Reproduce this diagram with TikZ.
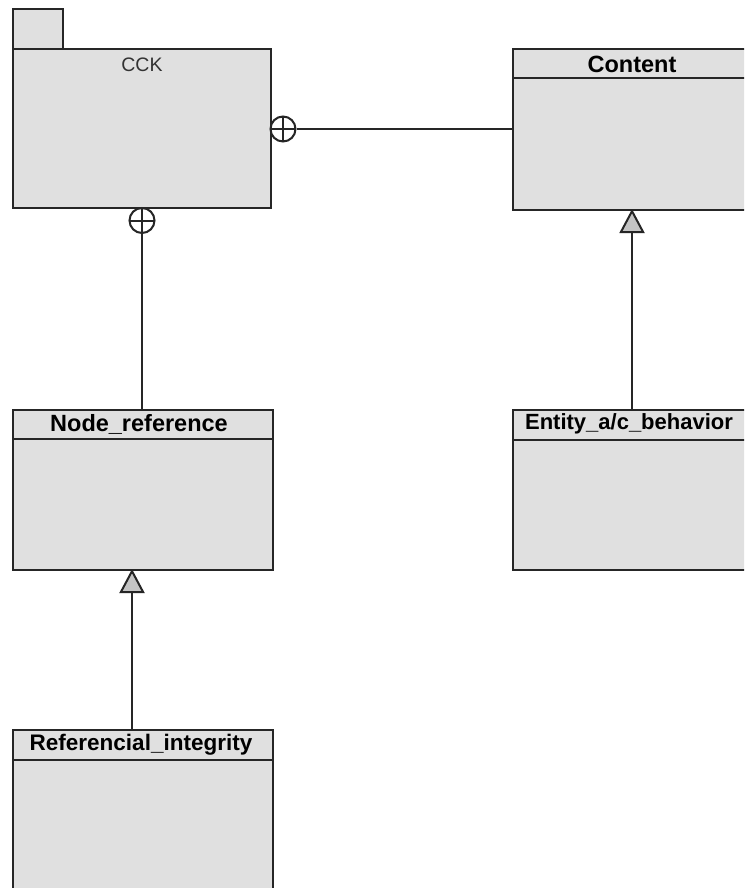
\documentclass[tikz,border=0pt]{standalone}
\usepackage{fontspec}
\setmainfont{Liberation Sans}
\usetikzlibrary{arrows.meta}
\definecolor{boxfill}{HTML}{E0E0E0}
\definecolor{tipfill}{HTML}{C4C4C4}
\definecolor{edge}{HTML}{262626}
\begin{document}
\begin{tikzpicture}[x=1pt,y=-1pt,
  umlbox/.style={draw=edge, fill=boxfill, line width=2.2pt, rectangle, inner sep=0pt, anchor=north west},
  boxline/.style={draw=edge, line width=2.2pt},
  title/.style={font=\fontsize{23.5}{27}\selectfont\bfseries, text=black, inner sep=0pt},
  conn/.style={draw=edge, line width=2pt},
  nest/.style={circle, draw=edge, line width=2pt, fill=white, minimum size=25pt, inner sep=0pt,
    path picture={\draw[edge, line width=2pt] (path picture bounding box.north) -- (path picture bounding box.south)
      (path picture bounding box.west) -- (path picture bounding box.east);}},
  gen/.style={conn, -{Triangle[length=24pt, width=25pt, fill=tipfill, line width=2pt]}}
]
\useasboundingbox (0,0) rectangle (744,888);
\clip (0,0) rectangle (744,888);
\fill[white] (0,0) rectangle (744,888);

% package CCK: tab and body
\node[umlbox, minimum width=50pt, minimum height=40pt] (tab) at (12,8) {};
\node[umlbox, minimum width=258pt, minimum height=159pt] (cck) at (12,48) {};
\node[font=\fontsize{19.5}{23}\selectfont, text=black!80, inner sep=0pt] (cckT) at (142,65) {CCK};

% classes
\node[umlbox, minimum width=242pt, minimum height=161pt] (content) at (512,48) {};
\draw[boxline] ([yshift=-30pt]content.north west) -- ([yshift=-30pt]content.north east);
\node[title] (contentT) at (632,64) {Content};

\node[umlbox, minimum width=242pt, minimum height=160pt] (entity) at (512,409) {};
\draw[boxline] ([yshift=-31pt]entity.north west) -- ([yshift=-31pt]entity.north east);
\node[title, font=\fontsize{22}{26}\selectfont\bfseries] (entityT) at (629,424) {Entity\_a/c\_behavior};

\node[umlbox, minimum width=260pt, minimum height=160pt] (noderef) at (12,409) {};
\draw[boxline] ([yshift=-30pt]noderef.north west) -- ([yshift=-30pt]noderef.north east);
\node[title] (noderefT) at (139,424) {Node\_reference};

\node[umlbox, minimum width=260pt, minimum height=170pt] (refint) at (12,729) {};
\draw[boxline] ([yshift=-31pt]refint.north west) -- ([yshift=-31pt]refint.north east);
\node[title, font=\fontsize{22.5}{26}\selectfont\bfseries] (refintT) at (141,745) {Referencial\_integrity};

% nesting connectors
\node[nest] (nestR) at (283,129) {};
\node[nest] (nestB) at (142,220.5) {};
\draw[conn] (nestR.east) -- (content.west |- nestR);
\draw[conn] (nestB.south) -- (noderef.north -| nestB);

% generalizations
\coordinate (entTop) at (632,409);
\coordinate (contBot) at (632,209);
\draw[gen] (entTop) -- (contBot);
\coordinate (riTop) at (132,729);
\coordinate (nrBot) at (132,569);
\draw[gen] (riTop) -- (nrBot);
\end{tikzpicture}
\end{document}
